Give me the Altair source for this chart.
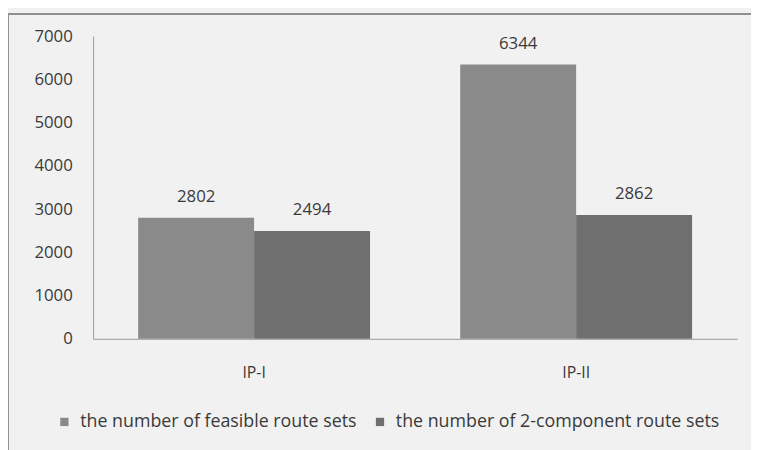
import altair as alt
import pandas as pd

categories = ["IP-I", "IP-II"]
series = ["the number of feasible route sets", "the number of 2-component route sets"]
feasible = [2802, 6344]
two_component = [2494, 2862]
y_ticks = [0, 1000, 2000, 3000, 4000, 5000, 6000, 7000]

rows = []
for i, c in enumerate(categories):
    rows.append({"cat": c, "series": series[0], "value": feasible[i]})
    rows.append({"cat": c, "series": series[1], "value": two_component[i]})
df = pd.DataFrame(rows)

FONT = "Open Sans"
colors = ["#8a8a8a", "#6f6f6f"]
TXT = "#3a3a3a"

x = alt.X("cat:N", sort=categories, title=None,
          scale=alt.Scale(paddingInner=0.28, paddingOuter=0.14),
          axis=alt.Axis(labelAngle=0, ticks=False, labelPadding=26, domainColor="#9a9a9a",
                        labelFont=FONT, labelFontSize=16, labelColor=TXT))
y = alt.Y("value:Q", title=None,
          scale=alt.Scale(domain=[0, 7000], nice=False),
          axis=alt.Axis(values=y_ticks, format="d", grid=False, ticks=False, labelPadding=21,
                        domainColor="#9a9a9a", labelFont=FONT, labelFontSize=17,
                        labelColor=TXT))
xo = alt.XOffset("series:N", sort=series, scale=alt.Scale(paddingInner=0, paddingOuter=0))

bars = alt.Chart(df).mark_bar().encode(
    x=x, y=y, xOffset=xo,
    color=alt.Color("series:N", sort=series,
                    scale=alt.Scale(domain=series, range=colors),
                    legend=alt.Legend(title=None, orient="none", direction="horizontal",
                                      legendX=-38, legendY=381, symbolType="square",
                                      symbolSize=70, symbolStrokeWidth=0, labelLimit=500,
                                      labelFont=FONT, labelFontSize=18, labelColor=TXT,
                                      labelOffset=7, columnPadding=14, symbolOffset=0)),
)

labels = alt.Chart(df).mark_text(baseline="bottom", dy=-12, font=FONT, fontSize=17,
                                 color=TXT).encode(
    x=x, y=y, xOffset=xo, text=alt.Text("value:Q", format="d"),
)

border_left = alt.Chart(df).mark_rule(color="#8c8c8c", strokeWidth=1).encode(
    x=alt.value(-86), y=alt.value(-22), y2=alt.value(420))
border_top = alt.Chart(df).mark_rule(color="#8c8c8c", strokeWidth=1.5).encode(
    x=alt.value(-86), x2=alt.value(680), y=alt.value(-22))

chart = alt.layer(bars, labels, border_left, border_top).properties(
    width=651, height=306,
    padding={"left": 86, "top": 26, "right": 14, "bottom": 110},
    autosize=alt.AutoSizeParams(type="none"),
    background="#f1f1f1",
).configure_view(stroke=None)

chart.save("out.html", embed_options={"renderer": "svg", "actions": False})
